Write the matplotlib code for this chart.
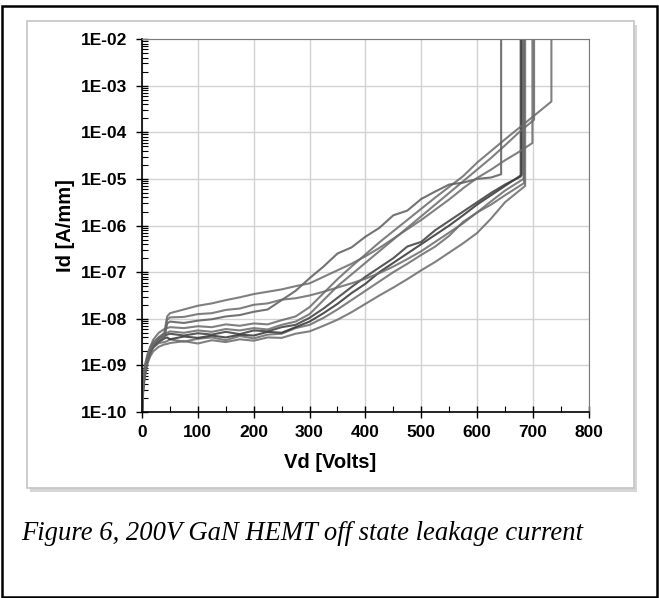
import matplotlib
matplotlib.use("Agg")
import matplotlib.pyplot as plt
import numpy as np
from matplotlib.patches import Rectangle
from matplotlib.ticker import FixedLocator, LogLocator, NullFormatter

# ---- data (log10 of Id in A/mm) ----
vd_grid = [0, 2, 5, 10, 15, 20, 30, 40, 45, 50, 75, 100, 125, 150, 175, 200, 225,
           250, 275, 300, 325, 350, 375, 400, 425, 450, 475, 500, 525, 550, 575, 600, 625]

logid_c1 = [-10, -9.6, -9.25, -8.95, -8.8, -8.7, -8.6, -8.55, -8.54, -8.52, -8.48, -8.53,
            -8.46, -8.5, -8.44, -8.47, -8.4, -8.41, -8.32, -8.27, -8.15, -8.02, -7.86,
            -7.68, -7.5, -7.33, -7.15, -6.96, -6.78, -6.58, -6.38, -6.16, -5.85]
tail_v_c1 = [650, 686, 686]
tail_c1 = [-5.5, -5.15, -2.0]

logid_c2 = [-10, -9.5, -9.2, -8.9, -8.75, -8.62, -8.52, -8.5, -8.48, -8.44, -8.49, -8.43,
            -8.4, -8.46, -8.37, -8.42, -8.34, -8.32, -8.2, -8.13, -7.98, -7.8, -7.6,
            -7.4, -7.2, -7.0, -6.82, -6.63, -6.45, -6.22, -5.92, -5.72, -5.55]
tail_v_c2 = [650, 684, 684]
tail_c2 = [-5.35, -5.09, -2.0]

logid_c3 = [-10, -9.4, -9.1, -8.85, -8.7, -8.6, -8.48, -8.42, -8.4, -8.44, -8.38, -8.41,
            -8.36, -8.4, -8.34, -8.36, -8.28, -8.3, -8.18, -8.06, -7.88, -7.68, -7.45,
            -7.25, -7.0, -6.8, -6.6, -6.4, -6.2, -6.0, -5.78, -5.55, -5.35]
tail_v_c3 = [650, 680, 680]
tail_c3 = [-5.15, -4.91, -2.0]

logid_c4 = [-10, -9.45, -9.15, -8.85, -8.68, -8.55, -8.42, -8.36, -8.34, -8.32, -8.36, -8.31,
            -8.34, -8.28, -8.33, -8.25, -8.27, -8.18, -8.13, -7.98, -7.78, -7.55, -7.32,
            -7.1, -6.9, -6.7, -6.45, -6.35, -6.1, -5.9, -5.7, -5.5, -5.3]
tail_v_c4 = [650, 678, 678]
tail_c4 = [-5.12, -4.95, -2.0]

logid_c5 = [-10, -9.5, -9.2, -8.9, -8.7, -8.55, -8.4, -8.32, -8.3, -8.27, -8.3, -8.25,
            -8.28, -8.22, -8.25, -8.2, -8.23, -8.13, -8.06, -7.9, -7.6, -7.3, -7.05,
            -6.8, -6.55, -6.3, -6.05, -5.8, -5.55, -5.3, -5.05, -4.8, -4.55]
tail_v_c5 = [650, 675, 702, 702]
tail_c5 = [-4.28, -4.0, -3.73, -2.0]

logid_c6 = [-10, -9.45, -9.1, -8.8, -8.6, -8.45, -8.3, -8.22, -8.2, -8.18, -8.2, -8.16,
            -8.18, -8.12, -8.15, -8.1, -8.12, -8.03, -7.95, -7.75, -7.45, -7.15, -6.88,
            -6.62, -6.36, -6.12, -5.88, -5.64, -5.4, -5.17, -4.94, -4.65, -4.4]
tail_v_c6 = [650, 682, 733, 733]
tail_c6 = [-4.15, -3.84, -3.34, -2.0]

logid_c7 = [-10, -9.5, -9.1, -8.85, -8.7, -8.6, -8.5, -8.42, -8.1, -8.06, -8.09, -8.04,
            -8.01, -7.95, -7.92, -7.85, -7.8, -7.6, -7.4, -7.13, -6.88, -6.6, -6.47,
            -6.24, -6.05, -5.78, -5.68, -5.43, -5.27, -5.12, -5.08, -5.0, -4.97]
tail_v_c7 = [643, 643]
tail_c7 = [-4.9, -2.0]

logid_c8 = [-10, -9.4, -9.0, -8.75, -8.6, -8.5, -8.4, -8.3, -7.95, -7.88, -7.8, -7.72,
            -7.67, -7.6, -7.54, -7.47, -7.42, -7.37, -7.3, -7.24, -7.1, -6.96, -6.82,
            -6.66, -6.48, -6.28, -6.08, -5.88, -5.66, -5.44, -5.2, -4.98, -4.8]
tail_v_c8 = [650, 675, 699, 699]
tail_c8 = [-4.6, -4.42, -4.23, -2.0]

logid_c9 = [-10, -9.45, -9.05, -8.8, -8.65, -8.55, -8.45, -8.36, -8.02, -7.97, -7.96, -7.9,
            -7.88, -7.81, -7.78, -7.7, -7.67, -7.59, -7.56, -7.5, -7.42, -7.33, -7.24,
            -7.14, -7.02, -6.88, -6.72, -6.55, -6.35, -6.15, -5.95, -5.72, -5.48]
tail_v_c9 = [650, 683, 683]
tail_c9 = [-5.25, -5.0, -2.0]

curves = [
    (tail_v_c1, logid_c1, tail_c1, "#6a6a6a"),
    (tail_v_c2, logid_c2, tail_c2, "#6a6a6a"),
    (tail_v_c3, logid_c3, tail_c3, "#333333"),
    (tail_v_c4, logid_c4, tail_c4, "#3c3c3c"),
    (tail_v_c5, logid_c5, tail_c5, "#6a6a6a"),
    (tail_v_c6, logid_c6, tail_c6, "#6a6a6a"),
    (tail_v_c7, logid_c7, tail_c7, "#5a5a5a"),
    (tail_v_c8, logid_c8, tail_c8, "#6a6a6a"),
    (tail_v_c9, logid_c9, tail_c9, "#6a6a6a"),
]

x_ticks = [0, 100, 200, 300, 400, 500, 600, 700, 800]
y_exp = [-10, -9, -8, -7, -6, -5, -4, -3, -2]
y_ticklabels = ["1E-10", "1E-09", "1E-08", "1E-07", "1E-06",
                "1E-05", "1E-04", "1E-03", "1E-02"]

plt.rcParams["font.family"] = ["Liberation Sans", "DejaVu Sans"]

fig = plt.figure(figsize=(6.59, 5.98), dpi=100)

# outer black frame
fig.patches.append(Rectangle((0.003, 0.002), 0.994, 0.988, transform=fig.transFigure,
                             fill=False, edgecolor="black", lw=1.8, zorder=-5))
# chart area box with a soft shadow
fig.patches.append(Rectangle((0.045, 0.178), 0.921, 0.781, transform=fig.transFigure,
                             facecolor="#d6d6d6", edgecolor="none", zorder=-4))
fig.patches.append(Rectangle((0.041, 0.184), 0.921, 0.781, transform=fig.transFigure,
                             facecolor="white", edgecolor="#c4c4c4", lw=1.2, zorder=-3))

ax = fig.add_axes([0.2155, 0.311, 0.678, 0.6237])
ax.set_zorder(2)
ax.set_yscale("log")

for tail_v, logs, tail, col in curves:
    vd = vd_grid[:len(logs)] + tail_v
    idv = 10.0 ** np.array(logs + tail)
    ax.plot(vd, idv, color=col, lw=1.5, alpha=0.85)

ax.set_xlim(0, 800)
ax.set_ylim(1e-10, 1e-2)

ax.xaxis.set_major_locator(FixedLocator(x_ticks))
ax.xaxis.set_minor_locator(FixedLocator([50, 150, 250, 350, 450, 550, 650, 750]))
ax.yaxis.set_major_locator(FixedLocator([10.0 ** e for e in y_exp]))
ax.set_yticklabels(y_ticklabels)
ax.yaxis.set_minor_locator(LogLocator(base=10, subs=np.arange(2, 10)))
ax.yaxis.set_minor_formatter(NullFormatter())

ax.grid(True, which="major", color="#d2d2d2", lw=1.0)
ax.set_axisbelow(True)

ax.tick_params(axis="both", which="major", direction="inout", length=9, width=1,
               labelsize=12.5, pad=5)
ax.tick_params(axis="both", which="minor", direction="in", length=4, width=0.8)
ax.tick_params(axis="y", which="major", pad=6)
for lab in ax.get_xticklabels() + ax.get_yticklabels():
    lab.set_fontweight("bold")

ax.spines["left"].set_color("black")
ax.spines["bottom"].set_color("black")
ax.spines["left"].set_linewidth(1.2)
ax.spines["bottom"].set_linewidth(1.2)
ax.spines["top"].set_color("#7a7a7a")
ax.spines["right"].set_color("#7a7a7a")

ax.set_xlabel("Vd [Volts]", fontsize=14.5, fontweight="bold")
ax.xaxis.set_label_coords(0.42, -0.11)
ax.set_ylabel("Id [A/mm]", fontsize=14.5, fontweight="bold")
ax.yaxis.set_label_coords(-0.15, 0.5)

fig.text(21 / 659, 1 - 533 / 598, "Figure 6, 200V GaN HEMT off state leakage current",
         family="Liberation Serif", style="italic", fontsize=19.2, va="center", ha="left")

fig.savefig("out.png", dpi=100)
